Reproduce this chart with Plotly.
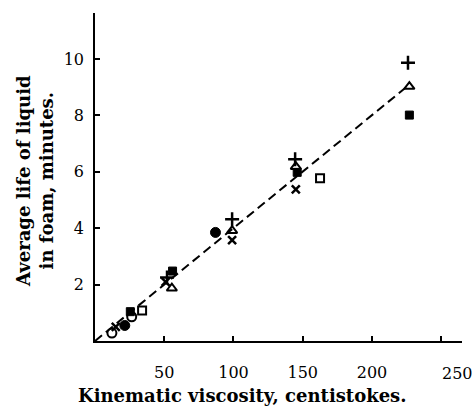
import plotly.graph_objects as go

# Data (kinematic viscosity in centistokes, average life in minutes)
plus_x = [52, 99, 144.5, 226]
plus_y = [2.25, 4.32, 6.44, 9.87]
tri_x = [55.5, 99, 145, 227]
tri_y = [1.87, 3.91, 6.18, 9.02]
fsq_x = [25.5, 56, 146, 227]
fsq_y = [1.04, 2.48, 5.98, 8.01]
cross_x = [15, 51, 99, 145]
cross_y = [0.5, 2.1, 3.58, 5.38]
osq_x = [34, 162.5]
osq_y = [1.08, 5.77]
fcirc_x = [21.5, 87]
fcirc_y = [0.55, 3.85]
ocirc_x = [12.2, 26.5]
ocirc_y = [0.28, 0.86]

fit_x = [0, 224]
fit_y = [0, 8.97]

x_ticks = [50, 100, 150, 200, 250]
x_ticktext = ["50", "100", "150", "200", ""]
y_ticks = [2, 4, 6, 8, 10]

FONT = "DejaVu Serif"

fig = go.Figure()
fig.add_trace(go.Scatter(x=fit_x, y=fit_y, mode="lines",
                         line=dict(color="black", width=2, dash="9px,5px"),
                         showlegend=False, hoverinfo="skip"))

def add(xs, ys, symbol, size, lw=2):
    fig.add_trace(go.Scatter(x=xs, y=ys, mode="markers", showlegend=False,
                             marker=dict(symbol=symbol, size=size, color="black",
                                         line=dict(color="black", width=lw))))

add(plus_x, plus_y, "cross-thin-open", 10, 2.5)
add(tri_x, tri_y, "triangle-up-open", 9, 2)
add(fsq_x, fsq_y, "square", 8, 1)
add(cross_x, cross_y, "x-thin-open", 8, 2.5)
add(osq_x, osq_y, "square-open", 8, 2)
add(fcirc_x, fcirc_y, "circle", 10, 1)
add(ocirc_x, ocirc_y, "circle-open", 9, 2)

fig.update_layout(
    width=475, height=406,
    margin=dict(l=95, r=13, t=13, b=65),
    paper_bgcolor="white", plot_bgcolor="white",
    font=dict(family=FONT, color="black", size=15),
    xaxis=dict(range=[0, 265], tickvals=x_ticks, ticktext=x_ticktext,
               ticks="inside", ticklen=5, tickwidth=1.5, tickcolor="black",
               showline=True, linecolor="black", linewidth=1.5, showgrid=False,
               zeroline=False, ticklabelstandoff=16,
               tickfont=dict(family=FONT, size=16)),
    yaxis=dict(range=[0, 11.63], tickvals=y_ticks,
               ticks="inside", ticklen=5, tickwidth=1.5, tickcolor="black",
               showline=True, linecolor="black", linewidth=1.5, showgrid=False,
               zeroline=False, ticklabelstandoff=6,
               tickfont=dict(family=FONT, size=16)),
)

fig.add_annotation(x=261.5, y=0, xref="x", yref="y", yshift=-32,
                   text="250", showarrow=False,
                   font=dict(family=FONT, size=16, color="black"))

# axis titles
fig.add_annotation(x=0.403, y=-0.165, xref="paper", yref="paper",
                   xanchor="center", yanchor="middle", showarrow=False,
                   text="<b>Kinematic viscosity, centistokes.</b>",
                   font=dict(family=FONT, size=18, color="black"))
fig.add_annotation(x=0, y=0.488, xref="paper", yref="paper", xshift=-60,
                   xanchor="center", yanchor="middle", showarrow=False,
                   textangle=-90,
                   text="<b>Average life of liquid<br>in foam, minutes.</b>",
                   font=dict(family=FONT, size=18, color="black"))

fig.write_html("out.html")
